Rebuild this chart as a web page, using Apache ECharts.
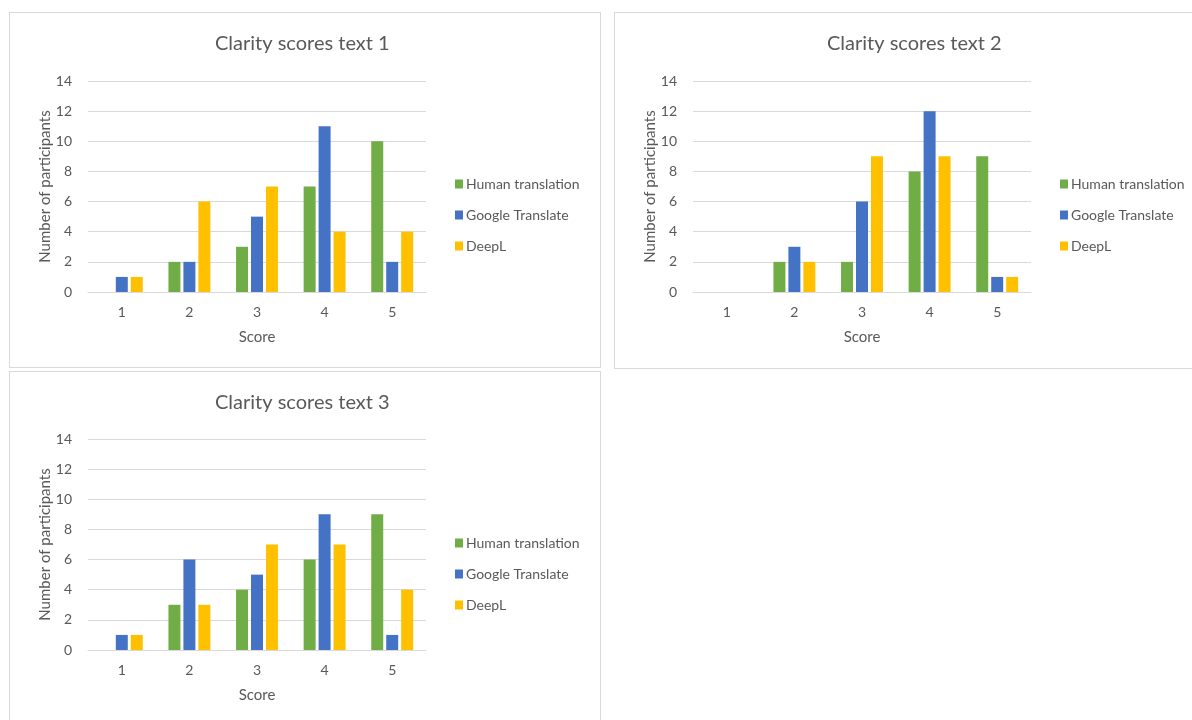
<!DOCTYPE html>
<html>
<head>
<meta charset="utf-8">
<script src="https://cdn.jsdelivr.net/npm/echarts@6/dist/echarts.min.js"></script>
<style>
  body { margin: 0; background: #ffffff; width: 1192px; height: 720px; overflow: hidden; position: relative; }
  .panel { position: absolute; border: 1px solid #d9d9d9; box-sizing: border-box; background: #fff; }
</style>
</head>
<body>
<div id="c1" class="panel" style="left:9px;top:12px;width:592px;height:356px;"></div>
<div id="c2" class="panel" style="left:614px;top:12px;width:600px;height:357px;"></div>
<div id="c3" class="panel" style="left:9px;top:371px;width:592px;height:360px;"></div>
<script>
// 分数类别
var scores = ['1', '2', '3', '4', '5'];
var seriesNames = ['Human translation', 'Google Translate', 'DeepL'];
var colors = ['#70ad47', '#4472c4', '#ffc000'];

// text 1
var human1 = [0, 2, 3, 7, 10];
var google1 = [1, 2, 5, 11, 2];
var deepl1 = [1, 6, 7, 4, 4];
// text 2
var human2 = [0, 2, 2, 8, 9];
var google2 = [0, 3, 6, 12, 1];
var deepl2 = [0, 2, 9, 9, 1];
// text 3
var human3 = [0, 3, 4, 6, 9];
var google3 = [1, 6, 5, 9, 1];
var deepl3 = [1, 3, 7, 7, 4];

var font = 'Lato, "Open Sans", sans-serif';

function makeOption(title, data, titleLeft){
	var series = [];
	for (var i = 0; i < seriesNames.length; i++) {
		series.push({
			name: seriesNames[i],
			type: 'bar',
			data: data[i],
			barGap: '25%',
			barCategoryGap: '38%',
			itemStyle: {color: colors[i]}
		});
	}
	return {
		animation: false,
		textStyle: {fontFamily: font},
		title: {
			text: title,
			left: titleLeft,
			top: 16,
			textStyle: {fontFamily: font, fontSize: 20, fontWeight: 'normal', color: '#595959'}
		},
		legend: {
			orient: 'vertical',
			left: 440,
			top: 159,
			itemWidth: 8,
			itemHeight: 9,
			itemGap: 17,
			icon: 'rect',
			textStyle: {fontFamily: font, fontSize: 14, color: '#595959', padding: [0, 0, 0, -2]},
			data: seriesNames
		},
		grid: {left: 78, width: 338, top: 68, height: 211},
		xAxis: {
			type: 'category',
			data: scores,
			name: 'Score',
			nameLocation: 'middle',
			nameGap: 38,
			nameMoveOverlap: false,
			nameTextStyle: {fontFamily: font, fontSize: 15, color: '#595959'},
			axisLine: {lineStyle: {color: '#d9d9d9'}},
			axisTick: {show: false},
			axisLabel: {fontFamily: font, fontSize: 14, color: '#595959', margin: 13}
		},
		yAxis: {
			type: 'value',
			min: 0,
			max: 14,
			interval: 2,
			name: 'Number of participants',
			nameLocation: 'middle',
			nameGap: 35,
			nameMoveOverlap: false,
			nameTextStyle: {fontFamily: font, fontSize: 15, color: '#595959'},
			axisLine: {show: false},
			axisTick: {show: false},
			axisLabel: {fontFamily: font, fontSize: 14, color: '#595959', margin: 16},
			splitLine: {lineStyle: {color: '#d9d9d9', width: 1}}
		},
		series: series
	};
}

var chart1 = echarts.init(document.getElementById('c1'));
chart1.setOption(makeOption('Clarity scores text 1', [human1, google1, deepl1], 200));

var chart2 = echarts.init(document.getElementById('c2'));
chart2.setOption(makeOption('Clarity scores text 2', [human2, google2, deepl2], 207));

var chart3 = echarts.init(document.getElementById('c3'));
var opt3 = makeOption('Clarity scores text 3', [human3, google3, deepl3], 200);
opt3.grid.top = 67;
chart3.setOption(opt3);
</script>
</body>
</html>
